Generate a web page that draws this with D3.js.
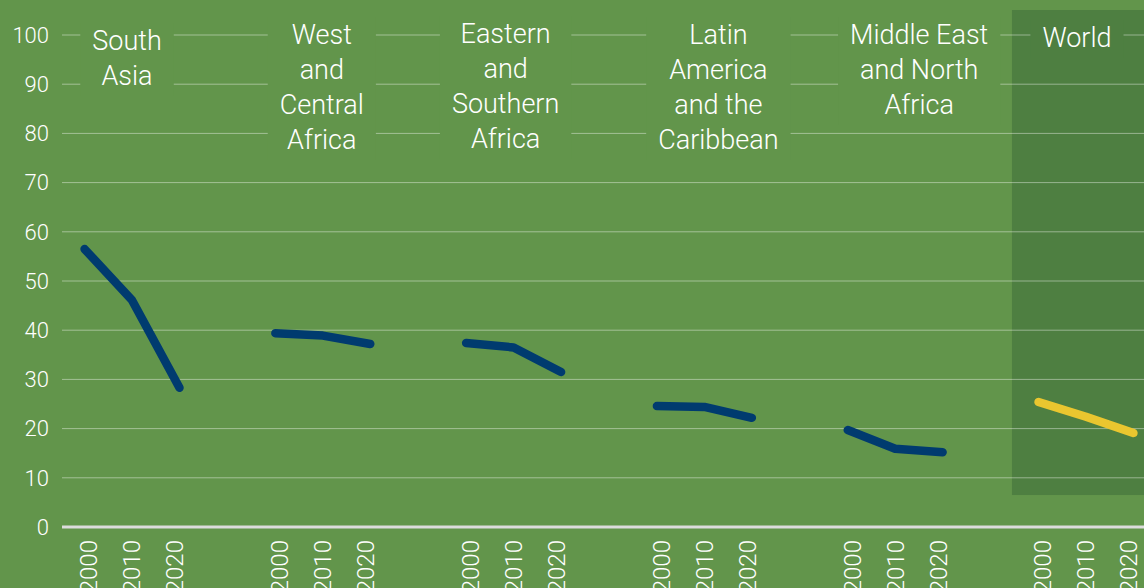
<!DOCTYPE html>
<html>
<head>
<meta charset="utf-8">
<script src="https://cdn.jsdelivr.net/npm/d3@7"></script>
<style>
  html, body { margin: 0; padding: 0; background: #62954b; }
  svg { display: block; font-family: Roboto, "Liberation Sans", sans-serif; font-weight: 300; }
</style>
</head>
<body>
<div id="chart"></div>
<script>
const regions = ['South Asia', 'West and Central Africa', 'Eastern and Southern Africa',
  'Latin America and the Caribbean', 'Middle East and North Africa', 'World']
const regionLines = [
  ['South', 'Asia'],
  ['West', 'and', 'Central', 'Africa'],
  ['Eastern', 'and', 'Southern', 'Africa'],
  ['Latin', 'America', 'and the', 'Caribbean'],
  ['Middle East', 'and North', 'Africa'],
  ['World']
]
const years = ['2000', '2010', '2020']
const values = [
  [56.5, 46.1, 28.3],
  [39.4, 38.9, 37.2],
  [37.4, 36.5, 31.5],
  [24.6, 24.4, 22.2],
  [19.7, 15.9, 15.2],
  [25.4, 22.4, 19.1]
]
const yTicks = [0, 10, 20, 30, 40, 50, 60, 70, 80, 90, 100]

const BG = '#62954b'
const BG_DARK = '#4e7f41'
const NAVY = '#003b6f'
const YELLOW = '#eac62f'

// hand placement of the region headers, relative to the group centre
const labelNudge = {
  'South Asia': [-5, 5],
  'West and Central Africa': [-1, -1],
  'Eastern and Southern Africa': [-8, -2],
  'Latin America and the Caribbean': [14, -1],
  'Middle East and North Africa': [24, -1],
  'World': [-9, 2]
}

const width = 1144
const height = 588
const left = 62

const svg = d3.select('#chart').append('svg')
  .attr('width', width).attr('height', height)

svg.append('rect').attr('width', width).attr('height', height).attr('fill', BG)

const y = d3.scaleLinear().domain([0, 100]).range([527, 35])

const x = d3.scaleBand().domain(regions).range([58, 1160]).paddingInner(0.224).paddingOuter(0)
const xYear = d3.scalePoint().domain(years).range([0, x.bandwidth()]).padding(0.56)
const xTick = d3.scalePoint().domain(years).range([0, x.bandwidth()]).padding(0.72)

// highlighted World panel
svg.append('rect')
  .attr('x', x('World')).attr('width', x.bandwidth())
  .attr('y', y(100) - 25).attr('height', y(6.5) - y(100) + 25)
  .attr('fill', BG_DARK)

// gridlines
svg.append('g').selectAll('line').data(yTicks.filter(d => d > 0)).join('line')
  .attr('x1', left).attr('x2', width)
  .attr('y1', d => y(d)).attr('y2', d => y(d))
  .attr('stroke', 'rgba(255,255,255,0.42)').attr('stroke-width', 1)

// y labels
svg.append('g').selectAll('text').data(yTicks).join('text')
  .attr('x', 49).attr('y', d => y(d)).attr('dy', '0.35em')
  .attr('text-anchor', 'end').attr('fill', '#fff')
  .style('font-size', '22px').text(d => d)

// baseline
svg.append('line').attr('x1', left).attr('x2', width).attr('y1', y(0)).attr('y2', y(0))
  .attr('stroke', '#dcdcdc').attr('stroke-width', 3)

// region labels with knockout boxes
regions.forEach((r, i) => {
  const [dx, dy] = labelNudge[r]
  const g = svg.append('g')
  const t = g.append('text').attr('text-anchor', 'middle').attr('fill', '#fff')
    .style('font-size', '27px')
  regionLines[i].forEach((line, j) => {
    t.append('tspan').attr('x', x(r) + x.bandwidth() / 2 + dx).attr('y', 45 + dy + j * 35).text(line)
  })
  const bb = t.node().getBBox()
  g.insert('rect', 'text')
    .attr('x', bb.x - 12).attr('width', bb.width + 24)
    .attr('y', bb.y - 2).attr('height', bb.height + 6)
    .attr('fill', r === 'World' ? BG_DARK : BG)
})

// year tick labels
regions.forEach(r => {
  svg.append('g').selectAll('text').data(years).join('text')
    .attr('transform', d => `translate(${x(r) + xTick(d)},540) rotate(-90)`)
    .attr('text-anchor', 'end').attr('dy', '0.35em')
    .attr('fill', '#fff').style('font-size', '24px')
    .text(d => d)
})

// lines
const line = d3.line().x(d => d.x).y(d => y(d.v))
regions.forEach((r, i) => {
  const pts = years.map((yr, j) => ({ x: x(r) + xYear(yr), v: values[i][j] }))
  svg.append('path').datum(pts)
    .attr('d', line)
    .attr('fill', 'none')
    .attr('stroke', r === 'World' ? YELLOW : NAVY)
    .attr('stroke-width', 8.5)
    .attr('stroke-linecap', 'round')
    .attr('stroke-linejoin', 'round')
})
</script>
</body>
</html>
